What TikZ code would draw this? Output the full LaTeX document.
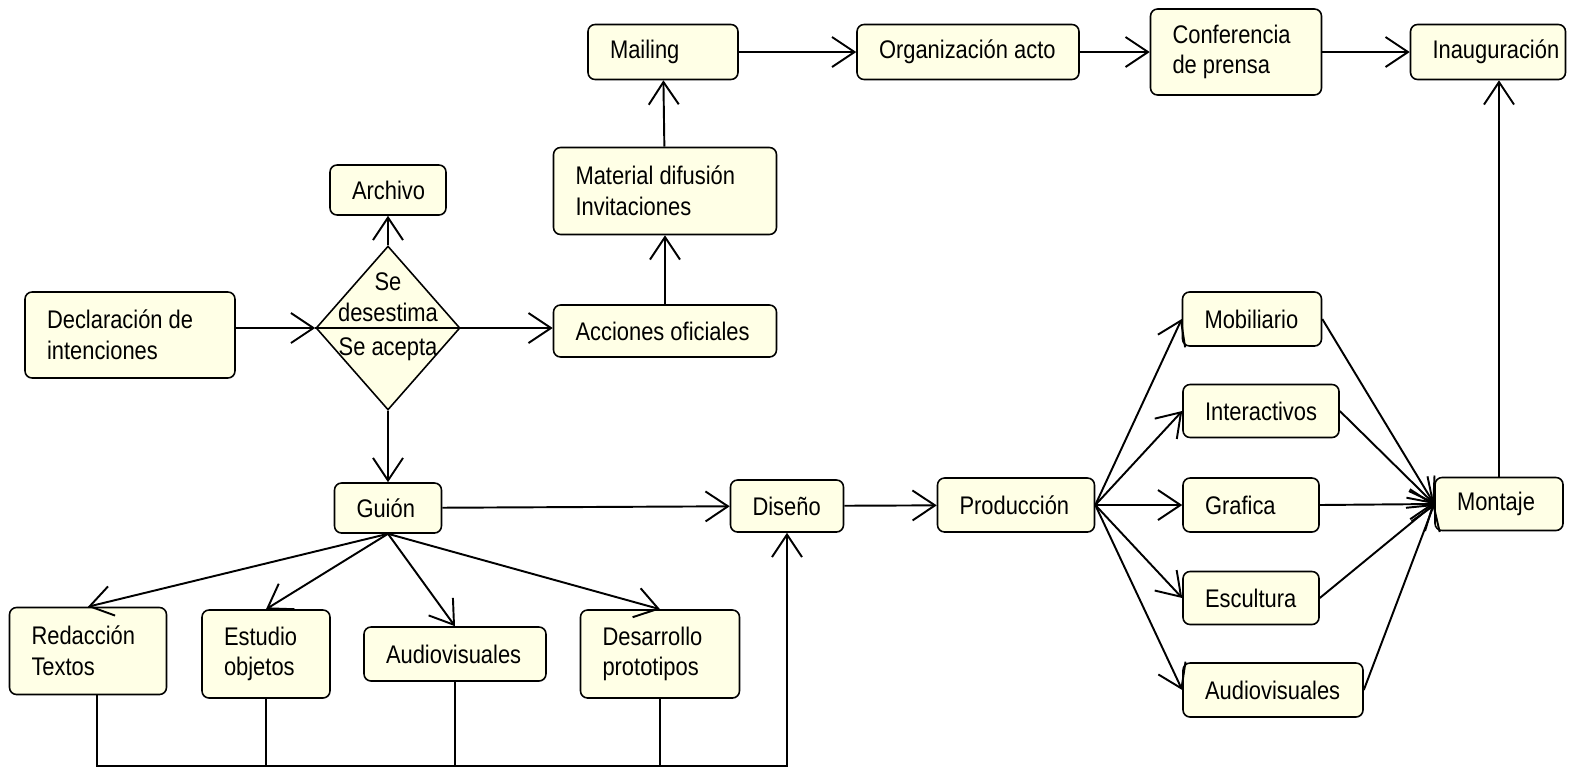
\documentclass[tikz,border=0pt]{standalone}
\usepackage{fontspec}
\setmainfont[FakeStretch=0.86]{Liberation Sans}
\usetikzlibrary{arrows.meta}
\usetikzlibrary{shapes.geometric}
\definecolor{boxfill}{RGB}{255,255,230}

\begin{document}
\begin{tikzpicture}[x=0.02cm, y=-0.02cm,
	box/.style={draw, rounded corners=4pt, fill=boxfill, line width=0.9pt, font=\fontsize{14.5}{17.5}\selectfont, align=flush left, inner ysep=2pt, inner xsep=0.44cm, text width=#1},
	label/.style={font=\fontsize{14.5}{17.5}\selectfont, align=center, inner sep=0pt},
	flow/.style={line width=1.1pt, -{Straight Barb[length=0.45cm, width=0.6cm]}},
	link/.style={line width=1.1pt}]

	\useasboundingbox (0,0) rectangle (1571,768);

	% top row
	\node[box=2.12cm, minimum height=1.1cm] (mail) at (663,52) {Mailing};
	\node[box=3.56cm, minimum height=1.1cm] (orga) at (968,52) {Organización acto};
	\node[box=2.54cm, minimum height=1.72cm] (conf) at (1236,52) {Conferencia\\de prensa};
	\node[box=2.22cm, minimum height=1.1cm] (inaug) at (1488,52) {Inauguración};

	% left part
	\node[box=3.58cm, minimum height=1.74cm] (mater) at (665,191) {Material difusión\\Invitaciones};
	\node[box=1.44cm, minimum height=1cm] (arch) at (388,190) {Archivo};
	\node[box=3.32cm, minimum height=1.72cm] (decl) at (130,335) {Declaración de\\intenciones};
	\node[box=3.58cm, minimum height=1.04cm] (acc) at (665,331) {Acciones oficiales};

	\node[diamond, draw, fill=boxfill, line width=0.9pt, inner sep=0pt, minimum width=2.88cm, minimum height=3.28cm] (dec) at (388,328) {};
	\draw[link] (dec.west) -- (dec.east);
	\node[label] (desest) at (388,297) {Se\\desestima};
	\node[label] (acepta) at (388,349) {Se acepta};

	\node[box=1.26cm, minimum height=1cm] (guion) at (388,508) {Guión};
	\node[box=1.38cm, minimum height=1.04cm] (dise) at (787,506) {Diseño};
	\node[box=2.26cm, minimum height=1.08cm] (prod) at (1016,505) {Producción};

	% bottom row
	\node[box=2.26cm, minimum height=1.74cm] (reda) at (88,651) {Redacción\\Textos};
	\node[box=1.68cm, minimum height=1.76cm] (estu) at (266,654) {Estudio\\objetos};
	\node[box=2.76cm, minimum height=1.08cm] (audb) at (455,654) {Audiovisuales};
	\node[box=2.3cm, minimum height=1.76cm] (desa) at (660,654) {Desarrollo\\prototipos};
	\coordinate (bus) at (0,766);

	% production
	\node[box=1.9cm, minimum height=1.08cm] (mobi) at (1252,319) {Mobiliario};
	\node[box=2.24cm, minimum height=1.06cm] (inter) at (1261,411) {Interactivos};
	\node[box=1.84cm, minimum height=1.08cm] (graf) at (1251,505) {Grafica};
	\node[box=1.84cm, minimum height=1.06cm] (escu) at (1251,598) {Escultura};
	\node[box=2.72cm, minimum height=1.08cm] (audr) at (1273,690) {Audiovisuales};
	\node[box=1.68cm, minimum height=1.06cm] (mont) at (1499,504) {Montaje};

	% arrows
	\draw[flow] (mail) -- (orga);
	\draw[flow] (orga) -- (conf);
	\draw[flow] (conf) -- (inaug);
	\draw[flow] (mater) -- (mail);
	\draw[flow] (acc) -- (mater);
	\draw[flow] (decl.east |- dec.west) -- (dec.west);
	\draw[flow] (dec.east) -- (acc.west |- dec.east);
	\draw[flow] (dec.north) -- (arch);
	\draw[flow] (dec.south) -- (guion);
	\draw[flow] (guion) -- (dise);
	\draw[flow] (guion.south) -- (reda.north);
	\draw[flow] (guion.south) -- (estu.north);
	\draw[flow] (guion.south) -- (audb.north);
	\draw[flow] (guion.south) -- (desa.north);
	\draw[flow] (dise) -- (prod);

	\draw[link] ([xshift=5]reda.south) -- ([xshift=5]reda.south |- bus) -| (estu.south);
	\draw[link] (audb.south) -- (audb.south |- bus);
	\draw[link] (desa.south) -- (desa.south |- bus);
	\draw[flow] ([xshift=5]reda.south |- bus) -| (dise.south);

	\foreach \n in {mobi, inter, graf, escu, audr} {
		\draw[flow] (prod.east) -- (\n.west);
		\draw[flow] (\n.east) -- (mont.west);
	}
	\draw[flow] (mont.north) -- (mont.north |- inaug.south);

\end{tikzpicture}
\end{document}
